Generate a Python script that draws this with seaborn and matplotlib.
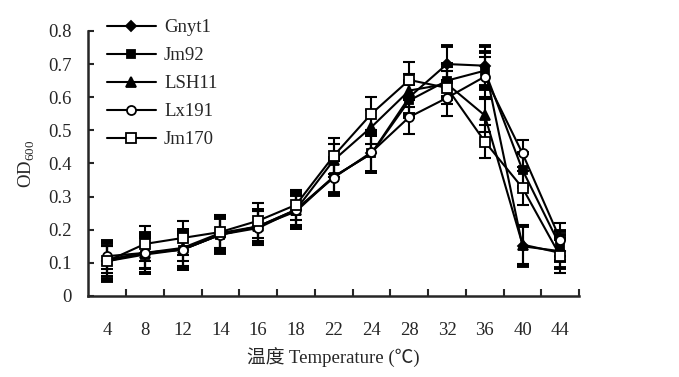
import numpy as np
import pandas as pd
import matplotlib
matplotlib.use('Agg')
import matplotlib.pyplot as plt
import seaborn as sns

# data
temps = ['4', '8', '12', '14', '16', '18', '22', '24', '28', '32', '36', '40', '44']
gnyt1 = [0.105, 0.13, 0.14, 0.185, 0.21, 0.26, 0.36, 0.43, 0.60, 0.70, 0.695, 0.15, 0.135]
jm92 = [0.105, 0.125, 0.14, 0.185, 0.21, 0.255, 0.36, 0.43, 0.59, 0.65, 0.68, 0.38, 0.15]
lsh11 = [0.11, 0.13, 0.145, 0.19, 0.21, 0.26, 0.41, 0.51, 0.62, 0.64, 0.545, 0.155, 0.13]
lx191 = [0.12, 0.13, 0.14, 0.185, 0.205, 0.26, 0.357, 0.434, 0.54, 0.598, 0.662, 0.43, 0.17]
jm170 = [0.105, 0.157, 0.175, 0.193, 0.227, 0.275, 0.423, 0.55, 0.652, 0.628, 0.466, 0.326, 0.12]

gnyt1_err = [0.055, 0.06, 0.06, 0.055, 0.05, 0.055, 0.055, 0.055, 0.05, 0.055, 0.06, 0.06, 0.05]
jm92_err = [0.06, 0.055, 0.06, 0.05, 0.05, 0.05, 0.05, 0.055, 0.05, 0.05, 0.055, 0.05, 0.045]
lsh11_err = [0.04, 0.045, 0.04, 0.045, 0.045, 0.045, 0.05, 0.05, 0.05, 0.05, 0.05, 0.06, 0.045]
lx191_err = [0.04, 0.05, 0.05, 0.05, 0.05, 0.05, 0.05, 0.06, 0.05, 0.055, 0.06, 0.04, 0.05]
jm170_err = [0.045, 0.053, 0.052, 0.05, 0.053, 0.045, 0.055, 0.05, 0.055, 0.05, 0.05, 0.05, 0.05]

sns.set_style('ticks')
plt.rcParams['font.family'] = ['Liberation Serif', 'Noto Sans CJK SC']
plt.rcParams['mathtext.fontset'] = 'custom'
plt.rcParams['mathtext.rm'] = 'Liberation Serif'

fig = plt.figure(figsize=(6.79, 3.77), dpi=100)
ax = fig.add_axes([0.130, 0.215, 0.723, 0.703])

x = np.arange(len(temps))
series = [
    ('Gnyt1', gnyt1, gnyt1_err, 'D', 'black', 5, 2.8),
    ('Jm92', jm92, jm92_err, 's', 'black', 6, 2.8),
    ('LSH11', lsh11, lsh11_err, '^', 'black', 7, 1.5),
    ('Lx191', lx191, lx191_err, 'o', 'white', 6.5, 1.5),
    ('Jm170', jm170, jm170_err, 's', 'white', 7, 1.5),
]

for name, vals, err, mk, fc, ms, ct in series:
    ax.errorbar(x, vals, yerr=err, fmt='none', ecolor='black',
                elinewidth=1.5, capsize=4.5, capthick=ct, zorder=2)
for name, vals, err, mk, fc, ms, ct in series:
    df = pd.DataFrame({'x': x, 'y': vals})
    sns.lineplot(data=df, x='x', y='y', ax=ax, color='black', linewidth=1.5,
                 marker=mk, markersize=ms, markerfacecolor=fc,
                 markeredgecolor='black', markeredgewidth=1.3,
                 label=name, zorder=3)

ax.set_xlim(-0.5, len(temps) - 0.5)
ax.set_ylim(0, 0.8)
ax.set_xticks(x)
ax.set_xticklabels(temps)
ax.set_xticks(np.arange(0.5, len(temps), 1), minor=True)
ax.set_yticks(np.arange(0, 0.81, 0.1))
ax.set_yticklabels(['0'] + ['%.1f' % v for v in np.arange(0.1, 0.81, 0.1)])
ax.tick_params(axis='x', which='major', length=0, pad=19, labelsize=13.5)
ax.tick_params(axis='x', which='minor', direction='in', length=5, width=1.5)
ax.tick_params(axis='y', direction='in', length=4, width=1.5, pad=12, labelsize=13.5)

sns.despine(ax=ax)
for s in ['left', 'bottom']:
    ax.spines[s].set_linewidth(1.8)

ax.set_xlabel('温度 Temperature (℃)', fontsize=13.5, labelpad=6)
ax.set_ylabel('OD$_{600}$', fontsize=13.5, labelpad=8)

ax.legend(loc='upper left', bbox_to_anchor=(0.038, 1.045), frameon=False,
          fontsize=13.5, handlelength=2.6, handletextpad=0.45,
          labelspacing=0.58, borderpad=0, borderaxespad=0)

fig.savefig('out.png', dpi=100)
